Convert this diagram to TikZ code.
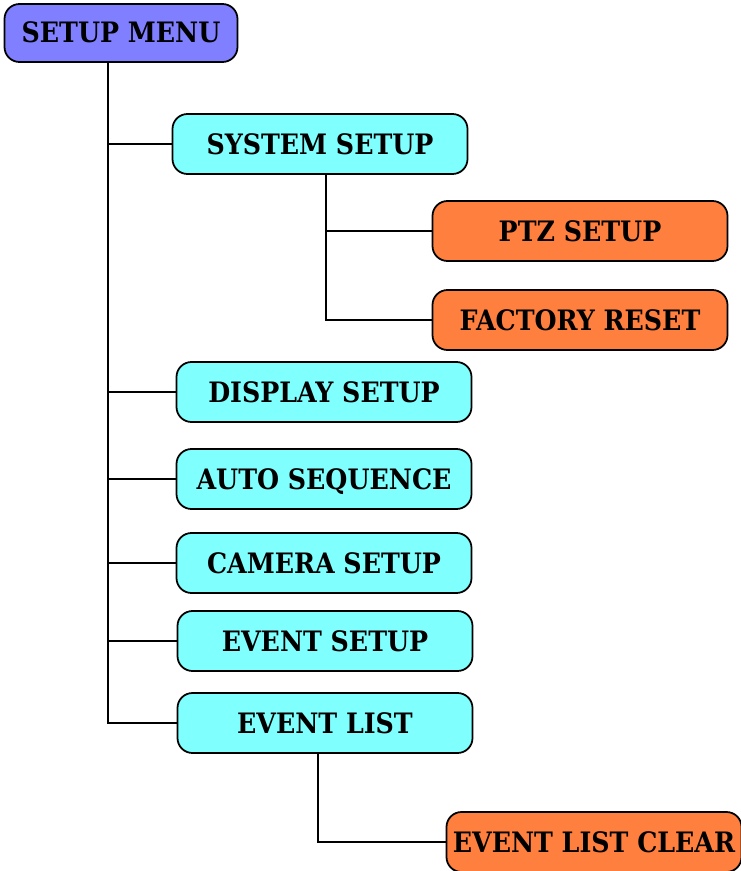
\documentclass[tikz,border=0pt]{standalone}
\usepackage{fontspec}
\setmainfont{DejaVu Serif Condensed}
\usetikzlibrary{positioning}

\definecolor{menublue}{RGB}{127,127,255}
\definecolor{itemcyan}{RGB}{128,255,255}
\definecolor{suborange}{RGB}{255,127,63}

\begin{document}
\begin{tikzpicture}[x=0.03cm,y=-0.03cm]
\useasboundingbox (0,0) rectangle (741,871);
\begin{scope}[every node/.style={draw,line width=1.5pt,rounded corners=0.45cm,inner sep=0pt,
              font=\fontsize{24}{28}\selectfont\bfseries,text height=0.6cm,text depth=0pt}]
    \node[fill = menublue, minimum width=6.99cm, minimum height=1.74cm] (menu) at (121,33) {SETUP MENU};
    \node[fill = itemcyan, minimum width=8.85cm, minimum height=1.8cm] (system) at (320,144) {SYSTEM SETUP};
    \node[fill = suborange, minimum width=8.85cm, minimum height=1.8cm] (ptz) at (580,231) {PTZ SETUP};
    \node[fill = suborange, minimum width=8.85cm, minimum height=1.8cm] (reset) at (580,320) {FACTORY RESET};
    \node[fill = itemcyan, minimum width=8.85cm, minimum height=1.8cm] (display) at (324,392) {DISPLAY SETUP};
    \node[fill = itemcyan, minimum width=8.85cm, minimum height=1.8cm] (auto) at (324,479) {AUTO SEQUENCE};
    \node[fill = itemcyan, minimum width=8.85cm, minimum height=1.8cm] (camera) at (324,563) {CAMERA SETUP};
    \node[fill = itemcyan, minimum width=8.85cm, minimum height=1.8cm] (event) at (325,641) {EVENT SETUP};
    \node[fill = itemcyan, minimum width=8.85cm, minimum height=1.8cm] (list) at (325,723) {EVENT LIST};
    \node[fill = suborange, minimum width=8.85cm, minimum height=1.8cm] (clear) at (594,842) {EVENT LIST CLEAR};
\end{scope}
\coordinate (trunk) at (108,62);
\coordinate (sysdrop) at (326,174);
\coordinate (listdrop) at (318,754);
\begin{scope}[every path/.style={draw,line width=1.3pt}]
    \path (trunk) |- (list.west);
    \path (trunk |- system.west) -- (system.west);
    \path (trunk |- display.west) -- (display.west);
    \path (trunk |- auto.west) -- (auto.west);
    \path (trunk |- camera.west) -- (camera.west);
    \path (trunk |- event.west) -- (event.west);
    \path (sysdrop) |- (reset.west);
    \path (sysdrop |- ptz.west) -- (ptz.west);
    \path (listdrop) |- (clear.west);
\end{scope}
\end{tikzpicture}
\end{document}
